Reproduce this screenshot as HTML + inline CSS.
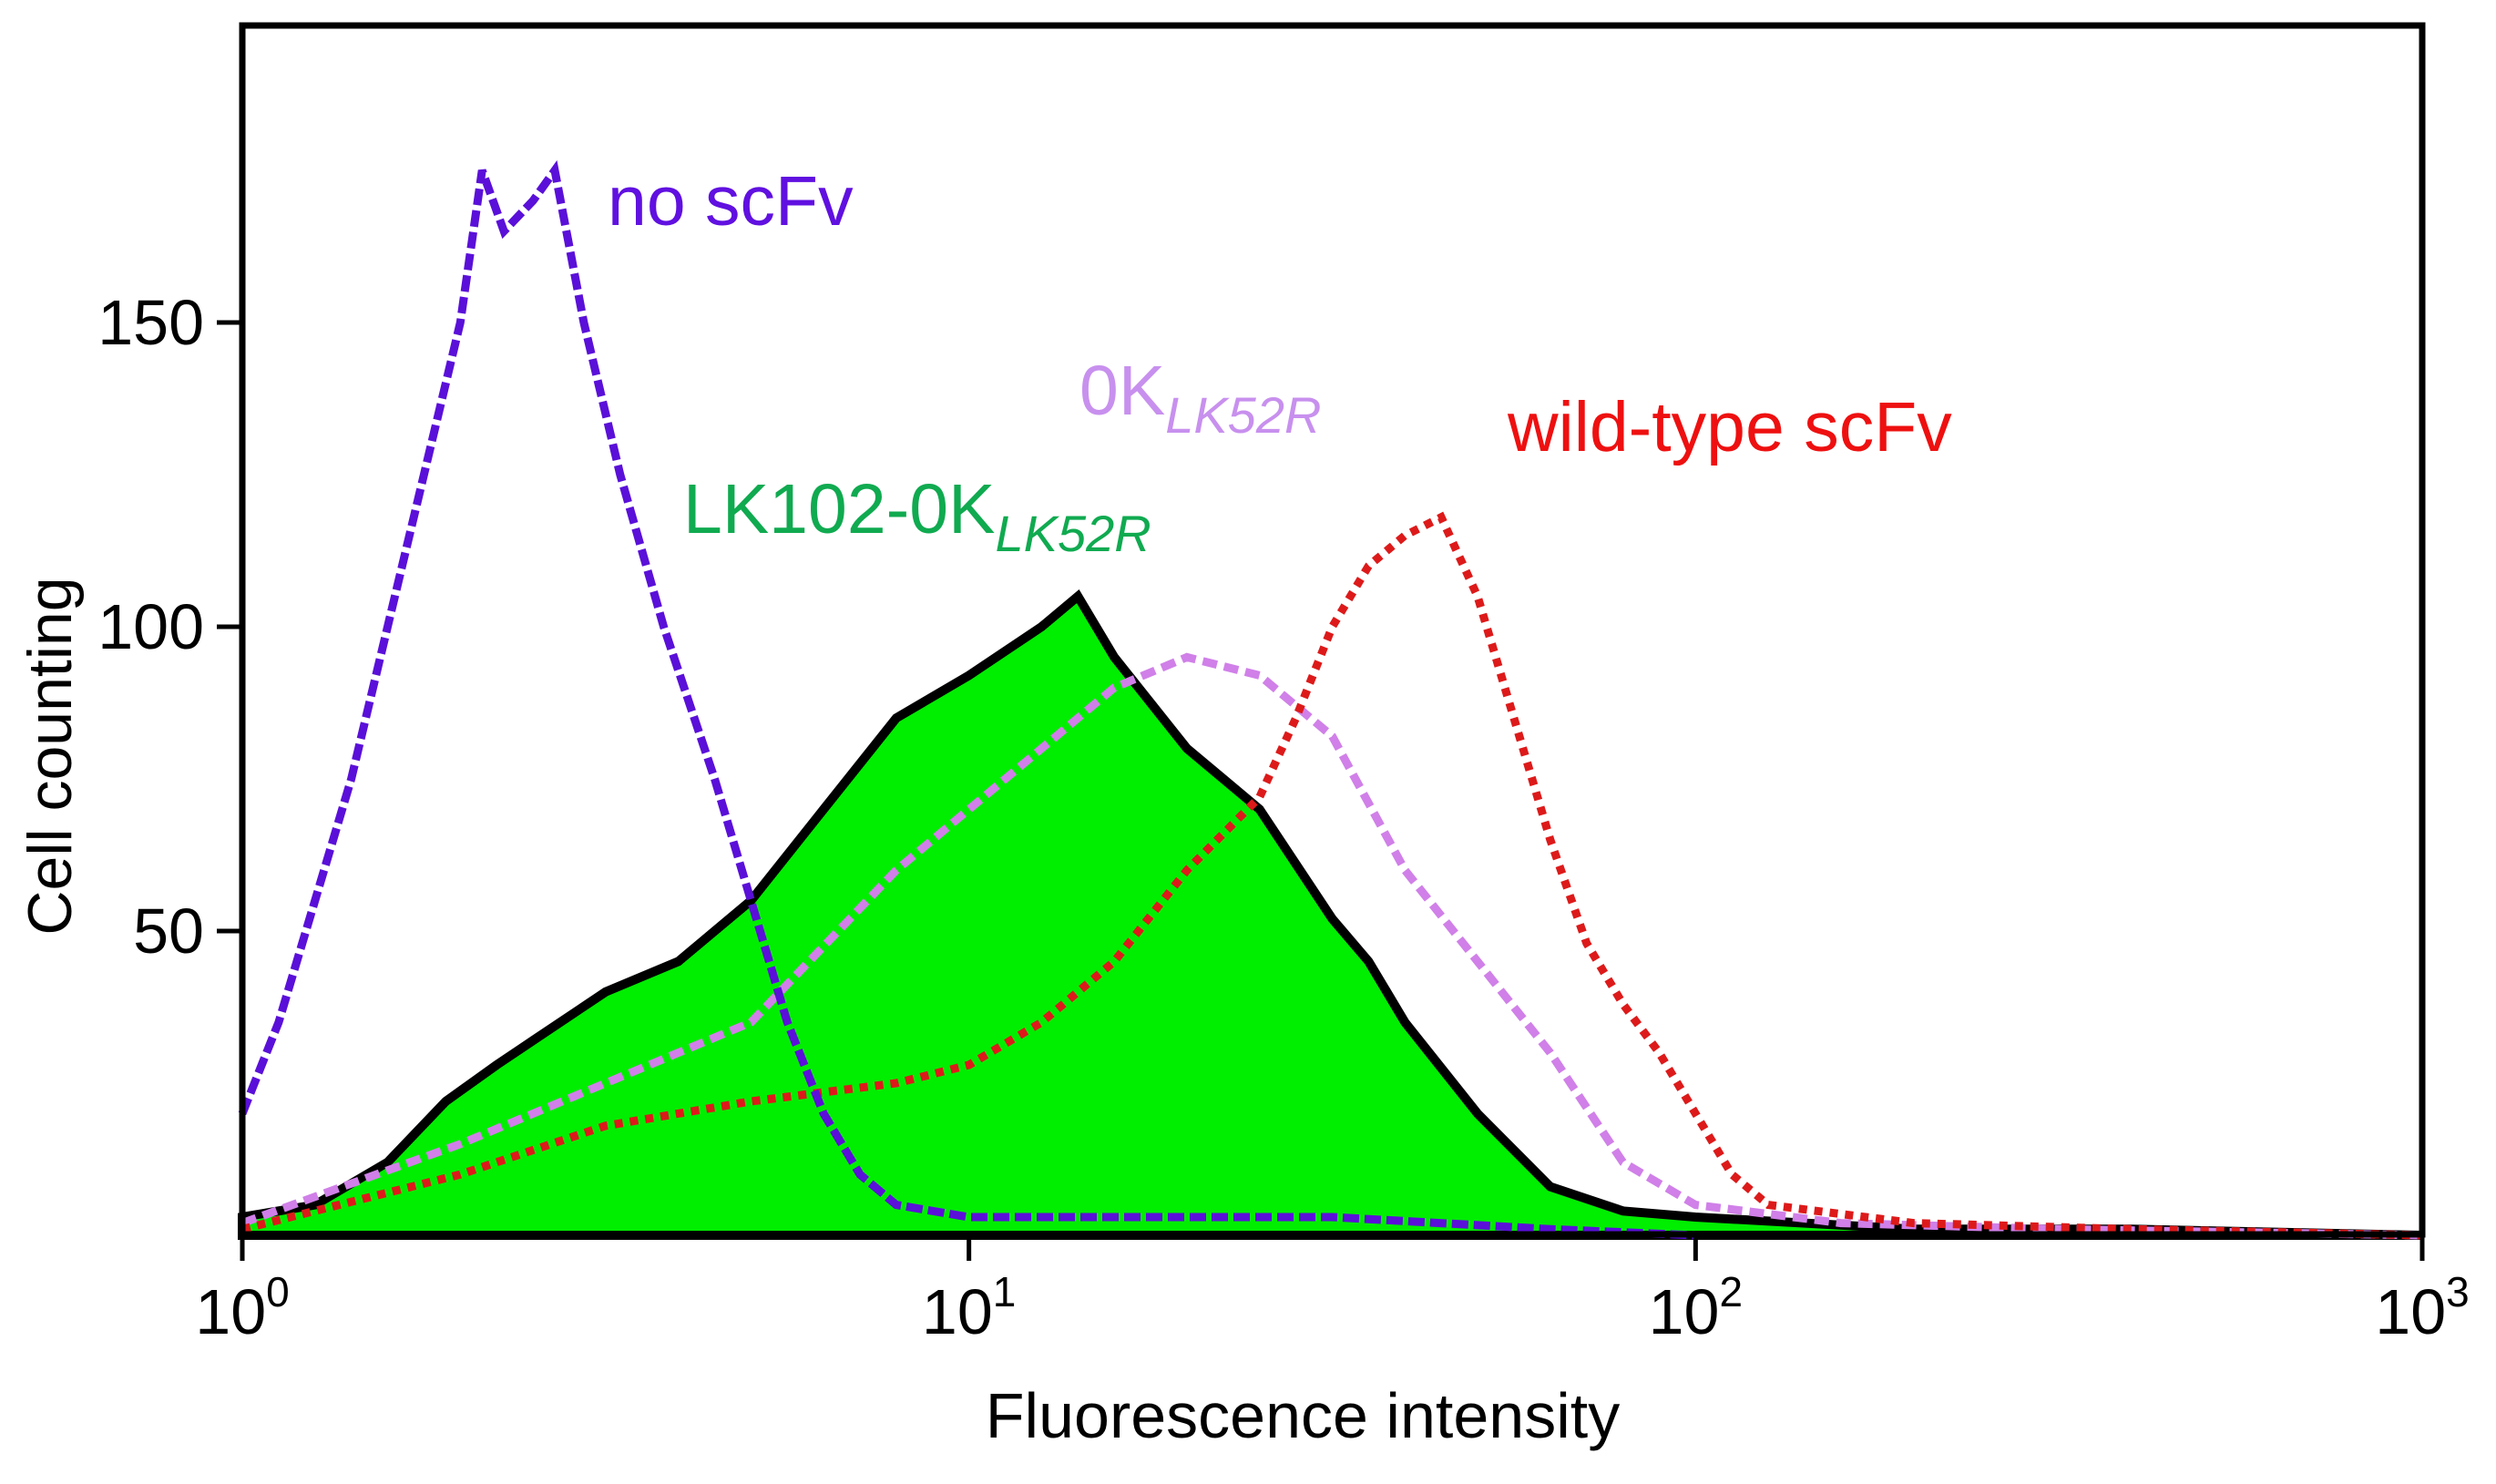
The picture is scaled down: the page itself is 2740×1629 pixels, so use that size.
<!DOCTYPE html>
<html><head><meta charset="utf-8"><style>
body{margin:0;background:#fff}
svg text{font-family:"Liberation Sans",sans-serif}
</style></head><body>
<svg id="chart" width="2740" height="1624" xmlns="http://www.w3.org/2000/svg">
<g id="series"></g>
<rect x="266" y="28" width="2393" height="1327" fill="none" stroke="#000" stroke-width="7"/>
<g id="axes"></g>
<text x="0" y="0" transform="translate(78,830) rotate(-90)" text-anchor="middle" font-size="68">Cell counting</text>
<text x="1430" y="1578" text-anchor="middle" font-size="70">Fluorescence intensity</text>
<text x="667" y="247" font-size="77" fill="#6010e0">no scFv</text>
<text x="1185" y="455" font-size="77" fill="#c890ee">0K<tspan font-size="56" font-style="italic" dy="20">LK52R</tspan></text>
<text x="1655" y="495" font-size="77" fill="#ee1010">wild-type scFv</text>
<text x="750" y="585" font-size="77" fill="#10aa50">LK102-0K<tspan font-size="56" font-style="italic" dy="20">LK52R</tspan></text>
</svg>
<script>
const noX=[0,0.05,0.1,0.15,0.2,0.25,0.3,0.33,0.36,0.4,0.43,0.47,0.52,0.58,0.65,0.7,0.75,0.8,0.85,0.9,1.0,1.2,1.5,1.8,2.0];
const noY=[20,35,55,75,100,125,150,175,165,170,175,150,125,100,75,55,35,20,10,5,3,3,3,1,0];
const grX=[0,0.1,0.2,0.28,0.35,0.4,0.5,0.6,0.7,0.8,0.9,1.0,1.1,1.15,1.2,1.3,1.35,1.4,1.5,1.55,1.6,1.7,1.8,1.9,2.0,2.3,2.6,3];
const grY=[3,5,12,22,28,32,40,45,55,70,85,92,100,105,95,80,75,70,52,45,35,20,8,4,3,1,1,0];
const pkX=[0,0.3,0.5,0.7,0.9,1.1,1.2,1.3,1.4,1.5,1.6,1.7,1.8,1.9,2.0,2.2,2.5,3];
const pkY=[2,15,25,35,60,80,90,95,92,82,60,45,30,12,5,2,1,0];
const rdX=[0,0.3,0.5,0.7,0.9,1.0,1.1,1.2,1.3,1.4,1.45,1.5,1.55,1.6,1.65,1.7,1.75,1.8,1.85,1.9,1.95,2.0,2.05,2.1,2.3,2.6,3];
const rdY=[1,10,18,22,25,28,35,45,60,72,85,100,110,115,118,105,85,65,48,38,30,20,10,5,2,1,0];
const yTicks=[50,100,150];
const xTicks=[0,1,2,3];
const X0=266,X1=2659,Y0=1356,YPER=6.68;
const sx=d=>X0+(X1-X0)*d/3;
const sy=v=>Y0-v*YPER;
const NS="http://www.w3.org/2000/svg";
const g=document.getElementById('series'),ax=document.getElementById('axes');
function pts(xs,ys){return xs.map((x,i)=>sx(x).toFixed(1)+","+sy(ys[i]).toFixed(1)).join(" ");}
const fill=document.createElementNS(NS,'polygon');
fill.setAttribute('points',sx(0)+","+Y0+" "+pts(grX,grY)+" "+sx(3)+","+Y0);
fill.setAttribute('fill','#00ee00');fill.setAttribute('stroke','#000');fill.setAttribute('stroke-width','10');


g.appendChild(fill);
function line(xs,ys,c,dash,name){const p=document.createElementNS(NS,'polyline');p.setAttribute('points',pts(xs,ys));p.setAttribute('fill','none');p.setAttribute('stroke',c);p.setAttribute('stroke-width','9');p.setAttribute('stroke-dasharray',dash);


g.appendChild(p);}
line(pkX,pkY,'#d080e8','16 8','0k-lk52r-line');
line(rdX,rdY,'#dd1a1a','9 8','wild-type-scfv-line');
line(noX,noY,'#5a10d8','18 6','no-scfv-line');
yTicks.forEach(v=>{const l=document.createElementNS(NS,'line');l.setAttribute('x1',X0-28);l.setAttribute('x2',X0);l.setAttribute('y1',sy(v));l.setAttribute('y2',sy(v));l.setAttribute('stroke','#000');l.setAttribute('stroke-width','5');


ax.appendChild(l);
const t=document.createElementNS(NS,'text');t.setAttribute('x',X0-42);t.setAttribute('y',sy(v)+24);t.setAttribute('text-anchor','end');t.setAttribute('font-size','70');t.textContent=v;


ax.appendChild(t);});
xTicks.forEach(d=>{const l=document.createElementNS(NS,'line');l.setAttribute('x1',sx(d));l.setAttribute('x2',sx(d));l.setAttribute('y1',Y0);l.setAttribute('y2',Y0+28);l.setAttribute('stroke','#000');l.setAttribute('stroke-width','5');


ax.appendChild(l);
const t=document.createElementNS(NS,'text');t.setAttribute('x',sx(d));t.setAttribute('y',Y0+108);t.setAttribute('text-anchor','middle');t.setAttribute('font-size','70');t.innerHTML='10<tspan font-size="46" dy="-30">'+d+'</tspan>';


ax.appendChild(t);});
</script>
</body></html>
